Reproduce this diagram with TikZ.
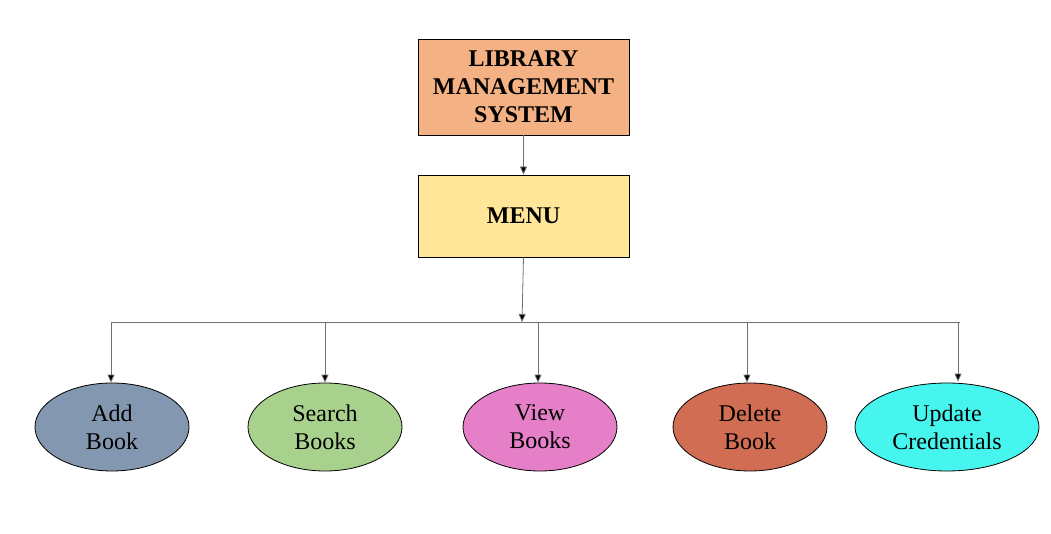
\documentclass[tikz,border=0pt]{standalone}
\usepackage{fontspec}
\setmainfont{Liberation Serif}
\usetikzlibrary{arrows.meta,shapes.geometric}
\definecolor{titlefill}{HTML}{F4B183}
\definecolor{menufill}{HTML}{FFE699}
\definecolor{addfill}{HTML}{8497B0}
\definecolor{searchfill}{HTML}{A9D18E}
\definecolor{viewfill}{HTML}{E57FC8}
\definecolor{deletefill}{HTML}{D06D53}
\definecolor{updatefill}{HTML}{46F5EE}
\definecolor{linegray}{HTML}{707070}
\begin{document}
\begin{tikzpicture}[x=1pt,y=-1pt,
  box/.style={draw=black,line width=0.8pt,minimum width=211pt,align=center,
    font=\fontsize{24}{28}\selectfont\bfseries,inner sep=0pt},
  oval/.style={ellipse,draw=black,line width=0.8pt,minimum width=154pt,minimum height=88pt,
    align=center,font=\fontsize{24}{28}\selectfont,inner sep=0pt},
  conn/.style={draw=linegray,line width=0.8pt},
  arr/.style={conn,-{Triangle[length=8pt,width=7pt,fill=black]}}]
\useasboundingbox (0,0) rectangle (1051,534);
\node[box,fill=titlefill,minimum height=96pt] (title) at (523.5,87) {LIBRARY\\MANAGEMENT\\SYSTEM};
\node[box,fill=menufill,minimum height=82pt] (menu) at (523.5,216) {MENU};
\node[oval,fill=addfill] (add) at (112,427) {Add\\Book};
\node[oval,fill=searchfill] (search) at (325,427) {Search\\Books};
\node[oval,fill=viewfill] (view) at (540,427) {View\\Books};
\node[oval,fill=deletefill] (delete) at (750,427) {Delete\\Book};
\node[oval,fill=updatefill,minimum width=184pt] (update) at (947,427) {Update\\Credentials};
\coordinate (busL) at (111,322);
\coordinate (busR) at (960,322);
\coordinate (busM) at (522,322);
\coordinate (bS) at (325,322);
\coordinate (bV) at (538,322);
\coordinate (bD) at (747,322);
\coordinate (bU) at (958,322);
\draw[arr] (title.south) -- (menu.north);
\draw[conn] (busL) -- (busR);
\draw[arr] (menu.south) -- (busM);
\draw[arr] (busL) -- (busL |- add.north);
\draw[arr] (bS) -- (bS |- search.north);
\draw[arr] (bV) -- (bV |- view.north);
\draw[arr] (bD) -- (bD |- delete.north);
\draw[arr] (bU) -- ([yshift=1pt]bU |- update.north);
\end{tikzpicture}
\end{document}
